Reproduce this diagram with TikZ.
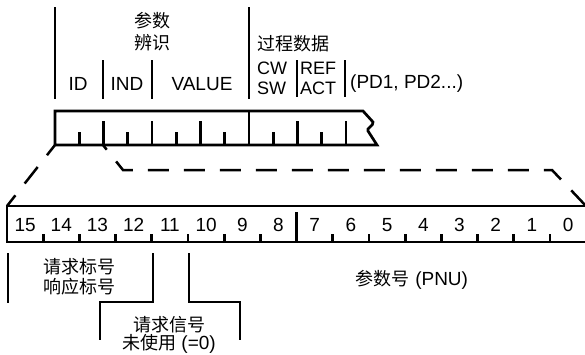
\documentclass[tikz,border=0pt]{standalone}
\usepackage{fontspec}
\setmainfont{Liberation Sans}
\newfontfamily\cjk{Noto Sans CJK SC}
\usetikzlibrary{positioning,calc}

\begin{document}
\begin{tikzpicture}[
  x=1pt,y=-1pt,
  every node/.style={font=\fontsize{19}{20}\selectfont,inner sep=0pt},
  hanzi/.style={font=\fontsize{18}{20}\selectfont\cjk},
  frame/.style={draw,line width=2.7pt},
  zoomline/.style={draw,line width=2.5pt,dash pattern=on 21pt off 15pt},
]
\useasboundingbox (0,0) rectangle (585,354);

% upper telegram with broken right end
\draw[frame] (363,111) -- (55,111) -- (55,145) -- (377,145) -- (368,131)
  .. controls (366,128) and (374,126) .. (373,122) -- cycle;
\foreach \i in {1,...,12} {
  \pgfmathsetmacro\xx{55+24.25*\i}
  \ifodd\i \draw[frame] (\xx,132) -- (\xx,145);
  \else \draw[frame] (\xx,121) -- (\xx,145); \fi
}
\draw[frame] (249,111) -- (249,145);

% field separators above
\draw[frame] (55,7) -- (55,99);
\draw[frame] (249,7) -- (249,99);
\draw[frame] (103,60) -- (103,99);
\draw[frame] (152,60) -- (152,99);
\draw[frame] (297,60) -- (297,97);
\draw[frame] (345,60) -- (345,97);

\node[hanzi,align=center,font=\fontsize{18}{22}\selectfont\cjk] (pid) at (152,32) {参数\\辨识};
\node (id)  at (78,84)  {ID};
\node (ind) at (127,84) {IND};
\node (val) at (202,84) {VALUE};
\node[hanzi,anchor=west] (pzd) at (257,44) {过程数据};
\node[anchor=west,align=left,font=\fontsize{18}{20}\selectfont] (cw)  at (257,78) {CW\\SW};
\node[anchor=west,align=left,font=\fontsize{18}{20}\selectfont] (ref) at (300,78) {REF\\ACT};
\node[anchor=west] (pd) at (350,84) {(PD1, PD2...)};

% lower word: 16 bits
\draw[frame] (590,206) -- (7,206) -- (7,242) -- (590,242);
\foreach \i in {1,...,15} {
  \pgfmathsetmacro\xx{7+36.2*\i}
  \ifnum\i=8 \draw[frame] (\xx,212) -- (\xx,242);
  \else \draw[frame] (\xx,234) -- (\xx,242); \fi
}
\foreach \b in {0,...,15}
  \node (bit\b) at ({25.1+36.2*(15-\b)},225) {\b};

% zoom lines
\coordinate (up-a) at (55,145);
\coordinate (up-b) at (103,145);
\coordinate (lo-a) at (7,206);
\coordinate (lo-b) at (586,206);
\draw[zoomline,dash phase=8pt] (up-a) -- (lo-a);
\draw[zoomline,dash phase=15pt] (up-b) -- (123,170) -- (552,170) -- (lo-b);

% bit groups below
\draw[frame] (8,253) -- (8,303);
\draw[frame] (153,253) -- (153,302) -- (100,302) -- (100,340);
\draw[frame] (189,253) -- (189,302) -- (240,302) -- (240,340);

\node[hanzi,align=center] (req) at (79,277) {请求标号\\响应标号};
\node[hanzi] (sig) at (169,325) {请求信号};
\node (unused) at (169,344) {{\cjk\fontsize{18}{20}\selectfont 未使用} (=0)};
\node (pnu)    at (412,280) {{\cjk\fontsize{18}{20}\selectfont 参数号} (PNU)};
\end{tikzpicture}
\end{document}
